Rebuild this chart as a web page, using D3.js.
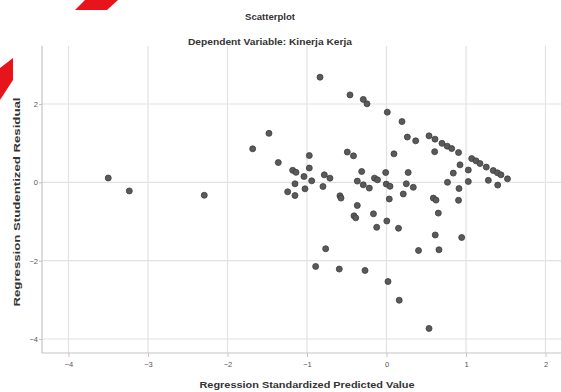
<!DOCTYPE html>
<html><head><meta charset="utf-8">
<script src="https://cdn.jsdelivr.net/npm/d3@7"></script>
<style>body{margin:0;background:#fff}svg{display:block}</style>
</head><body>
<svg id="c" width="561" height="392"></svg>
<script>
const title = "Scatterplot";
const subtitle = "Dependent Variable: Kinerja Kerja";
const xLabel = "Regression Standardized Predicted Value";
const yLabel = "Regression Studentized Residual";
const xTicks = [-4, -3, -2, -1, 0, 1, 2];
const yTicks = [2, 0, -2, -4];
const predicted = [-3.50,-3.235,-2.292,-1.683,-1.478,-1.361,-1.243,-1.18,-1.138,-1.151,-1.151,-1.038,-1.025,-0.971,-0.971,-0.941,-0.799,-0.782,-0.711,-0.836,-0.585,-0.572,-0.493,-0.415,-0.459,-0.292,-0.245,-0.312,-0.367,-0.292,-0.216,-0.151,-0.113,-0.010,-0.003,0.044,0.010,0.094,0.035,-0.367,-0.409,-0.387,-0.164,0.004,-0.123,0.151,-0.765,-0.891,-0.594,-0.270,0.019,0.160,0.535,0.195,0.262,0.367,0.273,0.249,0.337,0.211,0.403,0.535,0.610,0.698,0.764,0.820,0.906,0.606,0.589,0.623,0.652,0.613,0.660,0.946,0.906,0.912,0.767,0.840,0.925,1.029,1.029,1.072,1.126,1.176,1.255,1.343,1.396,1.440,1.522,1.281,1.399];
const residual = [0.11,-0.22,-0.33,0.855,1.25,0.505,-0.242,0.306,0.255,-0.038,-0.337,0.148,-0.166,0.684,0.365,0.038,-0.107,0.191,0.107,2.684,-0.344,-0.403,0.773,0.676,2.232,2.117,2.003,0.276,0.031,-0.064,-0.148,0.107,0.064,0.25,-0.046,-0.102,1.791,0.727,-0.426,-0.592,-0.855,-0.906,-0.804,-0.987,-1.148,-1.173,-1.696,-2.148,-2.214,-2.25,-2.533,-3.01,-3.73,1.551,1.156,1.059,0.25,-0.038,-0.128,-0.298,-1.74,1.186,1.102,0.995,0.923,0.862,0.760,0.783,-0.403,-0.454,-0.786,-1.344,-1.722,-1.408,-0.459,-0.158,0.0,0.235,0.446,0.314,0.020,0.605,0.548,0.480,0.388,0.301,0.242,0.191,0.089,0.051,-0.071];

const svg = d3.select("#c");
const L = 42, R = 561, T = 46, B = 353;
const x = d3.scaleLinear().domain([-4.333, 2.195]).range([L, R]);
const y = d3.scaleLinear().domain([3.48, -4.357]).range([T, B]);

// red corner ribbon fragments
svg.append("polygon").attr("points","85,0 118,0 107,10 75,10").attr("fill","#e8141b");
svg.append("polygon").attr("points","0,68 13,58 13,80 0,100").attr("fill","#e8141b");

// grid
svg.append("g").selectAll("line").data(xTicks).join("line")
  .attr("x1", d => x(d)).attr("x2", d => x(d)).attr("y1", T).attr("y2", B)
  .attr("stroke", "#e2e2e2").attr("stroke-width", 1.2);
svg.append("g").selectAll("line").data(yTicks).join("line")
  .attr("x1", L).attr("x2", R).attr("y1", d => y(d)).attr("y2", d => y(d))
  .attr("stroke", "#e2e2e2").attr("stroke-width", 1.2);

// axes
const xAxis = d3.axisBottom(x).tickValues(xTicks).tickSize(4).tickPadding(3).tickFormat(d3.format("d"));
const yAxis = d3.axisLeft(y).tickValues(yTicks).tickSize(3).tickPadding(1).tickFormat(d3.format("d"));
const gx = svg.append("g").attr("transform", `translate(0,${B})`).call(xAxis);
const gy = svg.append("g").attr("transform", `translate(${L},0)`).call(yAxis);
[gx, gy].forEach(g => {
  g.select(".domain").attr("stroke", "#c4c4c4").attr("stroke-width", 1.2);
  g.selectAll(".tick line").attr("stroke", "#c4c4c4");
  g.selectAll("text").attr("fill", "#555").attr("font-family", "Liberation Sans, Arial, sans-serif").attr("font-size", 7.5);
});
gx.selectAll("text").attr("dy", "0.9em");
gy.select(".domain").attr("d", `M0,${T}V${B}`);
gx.select(".domain").attr("d", `M${L},0H${R}`);

// points
svg.append("g").selectAll("circle").data(predicted.map((p, i) => [p, residual[i]])).join("circle")
  .attr("cx", d => x(d[0])).attr("cy", d => y(d[1])).attr("r", 3)
  .attr("fill", "#5a5a5a").attr("stroke", "#3c3c3c").attr("stroke-width", 0.8);

// texts
const ff = "Liberation Sans, Arial, sans-serif";
svg.append("text").attr("x", 270).attr("y", 20).attr("text-anchor", "middle")
  .attr("font-family", ff).attr("font-size", 9.5).attr("font-weight", "bold").attr("fill", "#333")
  .attr("textLength", 50).attr("lengthAdjust", "spacingAndGlyphs").text(title);
svg.append("text").attr("x", 270).attr("y", 45).attr("text-anchor", "middle")
  .attr("font-family", ff).attr("font-size", 9.5).attr("font-weight", "bold").attr("fill", "#333")
  .attr("textLength", 164).attr("lengthAdjust", "spacingAndGlyphs").text(subtitle);
svg.append("text").attr("x", 307).attr("y", 388).attr("text-anchor", "middle")
  .attr("font-family", ff).attr("font-size", 9.5).attr("font-weight", "bold").attr("fill", "#333")
  .attr("textLength", 215).attr("lengthAdjust", "spacingAndGlyphs").text(xLabel);
svg.append("text").attr("transform", "translate(19.5,202) rotate(-90)").attr("text-anchor", "middle")
  .attr("font-family", ff).attr("font-size", 9.5).attr("font-weight", "bold").attr("fill", "#333")
  .attr("textLength", 209).attr("lengthAdjust", "spacingAndGlyphs").text(yLabel);
</script>
</body></html>
